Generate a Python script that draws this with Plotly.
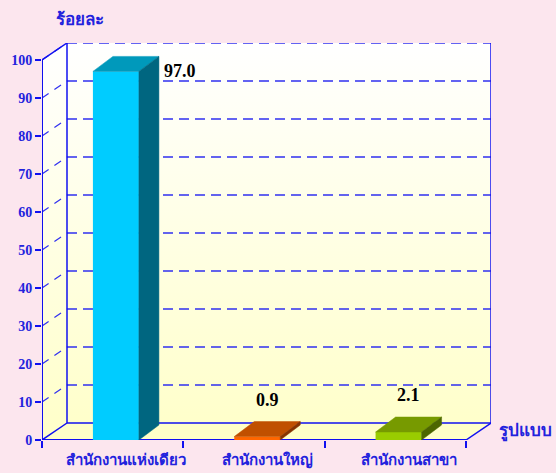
import plotly.graph_objects as go

# ---------------- data ----------------
categories = ["สำนักงานแห่งเดียว", "สำนักงานใหญ่", "สำนักงานสาขา"]
values = [97.0, 0.9, 2.1]
value_labels = ["97.0", "0.9", "2.1"]
y_ticks = [0, 10, 20, 30, 40, 50, 60, 70, 80, 90, 100]
y_title = "ร้อยละ"
x_title = "รูปแบบ"

front_colors = ["#00CCFF", "#FF6600", "#99CC00"]
top_colors = ["#0099BB", "#C05000", "#779A00"]
side_colors = ["#006680", "#873400", "#4C6600"]

# ---------------- geometry (pixel-based layout helpers) ----------------
W, H = 556, 473
L, R, T, B = 42, 65, 43, 33
n = len(categories)
px_per_cat = 424.0 / n
px_per_unit = 3.8
wall_dx = 25 / px_per_cat
wall_dy = 17 / px_per_unit
x_max = n + wall_dx
y_max = 100 + wall_dy
bar_w = 46 / px_per_cat
bar_off = 0.523
bar_dx = 20 / px_per_cat
bar_dy = 15 / px_per_unit

LINE = "#1010F0"
TXT = "#2222DD"
BG = "#FCE6EE"
FONT = "Liberation Serif, Times New Roman, serif"

fig = go.Figure()

grad = dict(type="vertical", start=0, stop=y_max,
            colorscale=[[0, "#FFFFC8"], [1, "#FFFFFF"]])

# back wall
fig.add_trace(go.Scatter(x=[wall_dx, x_max, x_max, wall_dx, wall_dx],
                         y=[wall_dy, wall_dy, y_max, y_max, wall_dy],
                         fill="toself", fillgradient=grad, mode="none",
                         hoverinfo="skip", showlegend=False))
# left wall
fig.add_trace(go.Scatter(x=[0, wall_dx, wall_dx, 0, 0],
                         y=[0, wall_dy, y_max, 100, 0],
                         fill="toself", fillgradient=grad, mode="none",
                         hoverinfo="skip", showlegend=False))
# floor
fig.add_trace(go.Scatter(x=[0, n, x_max, wall_dx, 0],
                         y=[0, 0, wall_dy, wall_dy, 0],
                         fill="toself", fillcolor="#FFFFC8", mode="none",
                         hoverinfo="skip", showlegend=False))

# grid lines on back wall and side wall
for v in y_ticks[1:]:
    fig.add_trace(go.Scatter(x=[wall_dx, x_max], y=[v + wall_dy, v + wall_dy],
                             mode="lines", line=dict(color="#3030F0", width=1.5, dash="10px,6px"),
                             hoverinfo="skip", showlegend=False))
    fig.add_trace(go.Scatter(x=[0, wall_dx], y=[v, v + wall_dy],
                             mode="lines", line=dict(color="#3030F0", width=1.2, dash="8px,7px"),
                             hoverinfo="skip", showlegend=False))

def seg(xs, ys, w=1.5):
    fig.add_trace(go.Scatter(x=xs, y=ys, mode="lines",
                             line=dict(color=LINE, width=w),
                             hoverinfo="skip", showlegend=False))

# solid frame lines
seg([0, 0], [0, 100], 2)                      # front vertical axis
seg([0, wall_dx], [100, y_max])               # top-left diagonal
seg([0, wall_dx], [0, wall_dy])               # bottom-left diagonal
seg([wall_dx, wall_dx], [wall_dy, y_max])     # back wall left edge
seg([x_max, x_max], [wall_dy, y_max])         # back wall right edge
seg([wall_dx, x_max], [wall_dy, wall_dy])     # back floor line
seg([0, n], [0, 0], 2)                        # front floor line
seg([n, x_max], [0, wall_dy])                 # bottom-right diagonal

# ---------------- bars on overlay axes ----------------
xc = [i + bar_off for i in range(n)]
fig.add_trace(go.Bar(x=xc, y=values, width=bar_w, marker=dict(color=front_colors, line=dict(width=0)),
                     xaxis="x2", yaxis="y2", hoverinfo="skip", showlegend=False))

for i, v in enumerate(values):
    xl = xc[i] - bar_w / 2
    xr = xc[i] + bar_w / 2
    fig.add_trace(go.Scatter(x=[xl, xr, xr + bar_dx, xl + bar_dx, xl],
                             y=[v, v, v + bar_dy, v + bar_dy, v],
                             fill="toself", fillcolor=top_colors[i], mode="lines",
                             line=dict(color=top_colors[i], width=0.5),
                             xaxis="x2", yaxis="y2", hoverinfo="skip", showlegend=False))
    fig.add_trace(go.Scatter(x=[xr, xr + bar_dx, xr + bar_dx, xr, xr],
                             y=[0, bar_dy, v + bar_dy, v, 0],
                             fill="toself", fillcolor=side_colors[i], mode="lines",
                             line=dict(color=side_colors[i], width=0.5),
                             xaxis="x2", yaxis="y2", hoverinfo="skip", showlegend=False))
    if v > 90:
        fig.add_annotation(x=xr + bar_dx, y=v, text=f"<b>{value_labels[i]}</b>",
                           xref="x2", yref="y2", xanchor="left", yanchor="middle",
                           xshift=3, showarrow=False,
                           font=dict(family=FONT, size=18, color="black"))
    else:
        fig.add_annotation(x=xc[i] + bar_dx / 2, y=v + bar_dy, text=f"<b>{value_labels[i]}</b>",
                           xref="x2", yref="y2", xanchor="center", yanchor="bottom",
                           yshift=10, showarrow=False,
                           font=dict(family=FONT, size=18, color="black"))

# axis titles
fig.add_annotation(x=(80 - L) / (W - L - R), y=1 + (43 - 19) / (H - T - B),
                   xref="paper", yref="paper", text=f"<b>{y_title}</b>",
                   showarrow=False, xanchor="center", yanchor="middle",
                   font=dict(family=FONT, size=17, color=TXT))
fig.add_annotation(x=(525 - L) / (W - L - R), y=(440 - 431) / (H - T - B),
                   xref="paper", yref="paper", text=f"<b>{x_title}</b>",
                   showarrow=False, xanchor="center", yanchor="middle",
                   font=dict(family=FONT, size=17, color=TXT))

label_x = [c + bar_dx / 2 for c in xc]

fig.update_layout(
    width=W, height=H,
    margin=dict(l=L, r=R, t=T, b=B, pad=0, autoexpand=False),
    paper_bgcolor=BG, plot_bgcolor=BG,
    showlegend=False,
    xaxis=dict(range=[0, x_max], showgrid=False, zeroline=False, showline=False,
               tickmode="array", tickvals=label_x,
               ticktext=[f"<b>{c}</b>" for c in categories],
               ticks="", ticklen=0, automargin=False, ticklabelstandoff=9,
               tickfont=dict(family=FONT, size=15, color=TXT),
               minor=dict(tickmode="array", tickvals=list(range(n + 1)),
                          ticks="outside", ticklen=7, tickcolor=LINE, tickwidth=1.5,
                          showgrid=False),
               fixedrange=True),
    yaxis=dict(range=[0, y_max], showgrid=False, zeroline=False, showline=False,
               tickmode="array", tickvals=y_ticks,
               ticktext=[f"<b>{t}</b>" for t in y_ticks],
               ticks="outside", ticklen=6, tickcolor=LINE, tickwidth=1.5,
               tickfont=dict(family=FONT, size=14, color=TXT), automargin=False,
               fixedrange=True),
    xaxis2=dict(range=[0, x_max], overlaying="x", visible=False, fixedrange=True),
    yaxis2=dict(range=[0, y_max], overlaying="y", visible=False, fixedrange=True),
)

fig.write_html("out.html", config={"displayModeBar": False},
               post_script="document.body.style.margin='0';document.body.style.padding='0';")
